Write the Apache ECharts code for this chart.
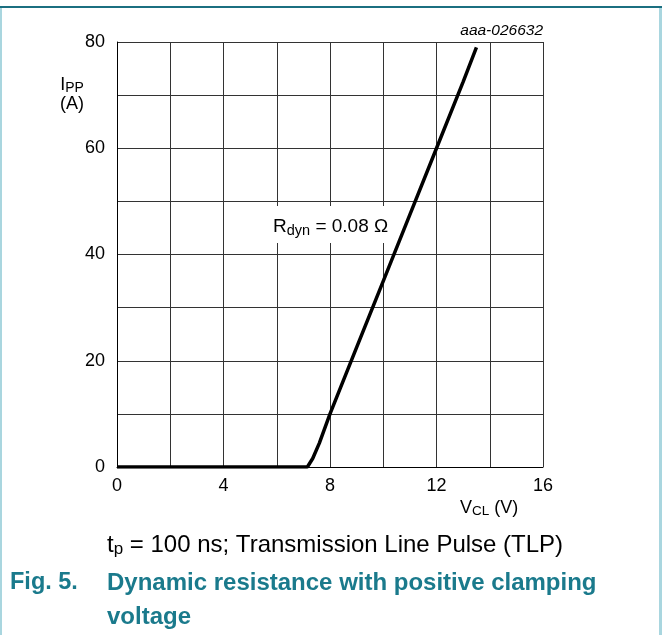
<!DOCTYPE html>
<html>
<head>
<meta charset="utf-8">
<script src="https://cdn.jsdelivr.net/npm/echarts@6/dist/echarts.min.js"></script>
<style>
html,body{margin:0;padding:0;background:#fff;}
#c{width:662px;height:635px;}
</style>
</head>
<body>
<div id="c"></div>
<script>
// Data (TLP curve)
const vclValues = [0, 1, 2, 3, 4, 5, 6, 7, 7.15, 7.25, 7.35, 7.6, 8.0, 9.0, 10.0, 11.0, 12.0, 13.0, 13.5];
const ippValues = [0, 0, 0, 0, 0, 0, 0, 0, 0, 0.8, 1.6, 4.5, 10, 22.5, 35, 47.5, 60, 72.5, 79];
const xTickLabels = [0, 4, 8, 12, 16];
const yTickLabels = [0, 20, 40, 60, 80];

const FONT = '"Liberation Sans", Arial, sans-serif';
const TEAL = '#1a7a8c';

const chart = echarts.init(document.getElementById('c'), null, {renderer: 'canvas'});
const seriesData = vclValues.map((v, i) => [v, ippValues[i]]);

chart.setOption({
  animation: false,
  backgroundColor: '#fff',
  grid: {left: 117, right: 119, top: 42, bottom: 168, containLabel: false},
  xAxis: {
    type: 'value', min: 0, max: 16, interval: 2,
    axisLine: {show: true, lineStyle: {color: '#000', width: 1}},
    axisTick: {show: false},
    splitLine: {show: true, lineStyle: {color: '#333', width: 1}},
    axisLabel: {
      margin: 10, fontFamily: FONT, fontSize: 18, color: '#000',
      formatter: v => xTickLabels.includes(v) ? String(v) : ''
    }
  },
  yAxis: {
    type: 'value', min: 0, max: 80, interval: 10,
    axisLine: {show: true, lineStyle: {color: '#000', width: 1}},
    axisTick: {show: false},
    splitLine: {show: true, lineStyle: {color: '#333', width: 1}},
    axisLabel: {
      margin: 12, fontFamily: FONT, fontSize: 18, color: '#000',
      formatter: v => yTickLabels.includes(v) ? String(v) : ''
    }
  },
  series: [{
    type: 'line',
    data: seriesData,
    showSymbol: false,
    lineStyle: {color: '#000', width: 3.5},
    z: 5
  }],
  graphic: [
    // outer frame
    {type: 'rect', shape: {x: 0, y: 6, width: 662, height: 2}, style: {fill: '#1b6f80'}, silent: true},
    {type: 'rect', shape: {x: 0, y: 8, width: 2, height: 627}, style: {fill: '#a9d6df'}, silent: true},
    {type: 'rect', shape: {x: 659, y: 8, width: 3, height: 627}, style: {fill: '#a9d6df'}, silent: true},
    // id code
    {type: 'text', x: 543, y: 31, style: {
      text: 'aaa-026632', fontFamily: FONT, fontSize: 15.5, fontStyle: 'italic', fill: '#000',
      align: 'right', verticalAlign: 'middle'}},
    // y axis name
    {type: 'text', x: 72, y: 95, style: {
      text: '{m|I}{s|PP}\n{m|(A)}', fontFamily: FONT, align: 'center', verticalAlign: 'middle',
      rich: {
        m: {fontFamily: FONT, fontSize: 18, fill: '#000', lineHeight: 19, align: 'center'},
        s: {fontFamily: FONT, fontSize: 14, fill: '#000', lineHeight: 11, verticalAlign: 'bottom'}
      }}},
    // x axis name
    {type: 'text', x: 460, y: 508, style: {
      text: '{m|V}{s|CL}{m| (V)}', fontFamily: FONT, align: 'left', verticalAlign: 'middle',
      rich: {
        m: {fontFamily: FONT, fontSize: 18, fill: '#000', lineHeight: 20},
        s: {fontFamily: FONT, fontSize: 13.5, fill: '#000', lineHeight: 11, verticalAlign: 'bottom'}
      }}},
    // annotation with white background
    {type: 'rect', shape: {x: 258, y: 206, width: 138, height: 37}, style: {fill: '#fff'}, z: 3},
    {type: 'text', x: 273, y: 227, z: 4, style: {
      text: '{m|R}{s|dyn}{m| = 0.08 Ω}', fontFamily: FONT, align: 'left', verticalAlign: 'middle',
      rich: {
        m: {fontFamily: FONT, fontSize: 19, fill: '#000', lineHeight: 22},
        s: {fontFamily: FONT, fontSize: 14.5, fill: '#000', lineHeight: 12, verticalAlign: 'bottom'}
      }}},
    // caption
    {type: 'text', x: 107, y: 545, style: {
      text: '{m|t}{s|p}{m| = 100 ns; Transmission Line Pulse (TLP)}', fontFamily: FONT, align: 'left', verticalAlign: 'middle',
      rich: {
        m: {fontFamily: FONT, fontSize: 24, fill: '#000', lineHeight: 26},
        s: {fontFamily: FONT, fontSize: 17, fill: '#000', lineHeight: 15, verticalAlign: 'bottom'}
      }}},
    // figure title
    {type: 'text', x: 10, y: 583, style: {
      text: 'Fig. 5.', fontFamily: FONT, fontSize: 23.5, fontWeight: 'bold', fill: TEAL,
      align: 'left', verticalAlign: 'middle'}},
    {type: 'text', x: 107, y: 583, style: {
      text: 'Dynamic resistance with positive clamping', fontFamily: FONT, fontSize: 24, fontWeight: 'bold', fill: TEAL,
      align: 'left', verticalAlign: 'middle'}},
    {type: 'text', x: 107, y: 617, style: {
      text: 'voltage', fontFamily: FONT, fontSize: 24, fontWeight: 'bold', fill: TEAL,
      align: 'left', verticalAlign: 'middle'}}
  ]
});
</script>
</body>
</html>
